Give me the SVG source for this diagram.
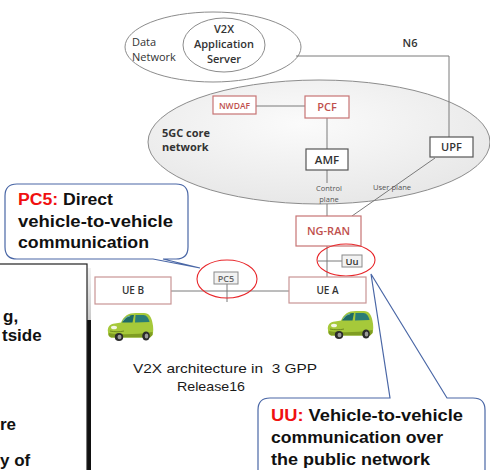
<svg xmlns="http://www.w3.org/2000/svg" width="490" height="470" viewBox="0 0 490 470">
  <style>
    .ln { stroke: #7a7a7a; stroke-width: 1; fill: none; }
    .lbl { font-family: "Open Sans", "Liberation Sans", sans-serif; }
    .redbox { fill: #ffffff; stroke: #c77474; stroke-width: 1.2; }
    .darkbox { fill: #ffffff; stroke: #555555; stroke-width: 1.2; }
    .uebox { fill: #ffffff; stroke: #c99595; stroke-width: 1.2; }
    .ifbox { fill: #f2f2f2; stroke: #8a8a8a; stroke-width: 1; }
    .redtxt { fill: #c0504d; font-weight: 600; }
    .darktxt { fill: #333333; font-weight: 600; }
    .hilite { fill: none; stroke: #e8262a; stroke-width: 1.1; }
    .callout { fill: #ffffff; stroke: #4a67a6; stroke-width: 1.2; }
    .ctext { font-family: "Liberation Sans", Arial, sans-serif; font-weight: bold; font-size: 16px; fill: #111111; }
    .key { fill: #f01010; }
    .side { font-family: "Liberation Sans", Arial, sans-serif; font-weight: bold; font-size: 17px; fill: #111111; }
    .cap { font-family: "Liberation Sans", Arial, sans-serif; font-size: 13px; fill: #1a1a1a; }
  </style>
  <defs>
    <radialGradient id="coreFill" cx="0.45" cy="0.35" r="0.7">
      <stop offset="0" stop-color="#fbfbfb"/>
      <stop offset="1" stop-color="#e6e6e6"/>
    </radialGradient>
    <linearGradient id="shadowFade" x1="0" y1="0" x2="0" y2="1">
      <stop offset="0" stop-color="#f2f2f2"/>
      <stop offset="1" stop-color="#c8c8c8"/>
    </linearGradient>
    <!-- small lime city car, front facing left -->
    <g id="car">
      <path d="M2,21 C1,16 4,13 9,12.5 L15,11.5 C18,5 22,2 30,2 L38,2 C43,2 45.5,6 46.5,12 C47.5,16 47.5,21 46.5,24 L44,26.5 L5,26.5 C2.5,25.5 2,23.5 2,21 Z" fill="#a6c93a"/>
      <path d="M3,22 C10,23.5 30,24 46.5,21 L46.5,24 L44,26.5 L5,26.5 C2.5,25.5 2,23.5 3,22 Z" fill="#7f9d22"/>
      <path d="M16,11.5 C19,6 22.5,4 28,4 L26.5,11.5 Z" fill="#1f6a66"/>
      <path d="M29.5,4 L37.5,4 C40.5,4 42.5,7 43.5,11 L29,11.5 Z" fill="#2a7d76"/>
      <path d="M17,10 C19,7 21,5.5 24,5" stroke="#6fb3a8" stroke-width="1" fill="none"/>
      <ellipse cx="8" cy="16.5" rx="3" ry="1.8" fill="#f4f7e6"/>
      <path d="M4,20 C8,21 14,21 18,20" stroke="#5f7a16" stroke-width="0.8" fill="none"/>
      <ellipse cx="13" cy="26" rx="4.2" ry="4" fill="#2b2b2b"/>
      <ellipse cx="13.5" cy="26" rx="2" ry="2.2" fill="#9a9a9a"/>
      <ellipse cx="40" cy="25" rx="3.8" ry="4.6" fill="#2b2b2b"/>
      <ellipse cx="40.5" cy="25" rx="1.8" ry="2.5" fill="#9a9a9a"/>
    </g>
  </defs>

  <rect x="0" y="0" width="490" height="470" fill="#ffffff"/>

  <!-- data network with the V2X application server -->
  <g id="data-network">
    <ellipse cx="213" cy="47" rx="88" ry="35" fill="#ffffff" stroke="#8c8c8c" stroke-width="1"/>
    <text class="lbl" x="132" y="46" font-size="11" fill="#333">Data</text>
    <text class="lbl" x="132" y="61" font-size="11" fill="#333">Network</text>
  </g>
  <g id="v2x-app-server">
    <ellipse cx="224" cy="45" rx="41" ry="27" fill="#ffffff" stroke="#8c8c8c" stroke-width="1"/>
    <text class="lbl" x="224" y="33" font-size="11" font-weight="600" fill="#333" text-anchor="middle">V2X</text>
    <text class="lbl" x="224" y="48" font-size="11" font-weight="600" fill="#333" text-anchor="middle">Application</text>
    <text class="lbl" x="224" y="63" font-size="11" font-weight="600" fill="#333" text-anchor="middle">Server</text>
  </g>

  <!-- 5G core network -->
  <g id="core-network">
    <ellipse cx="319" cy="142" rx="171" ry="62" fill="url(#coreFill)" stroke="#8c8c8c" stroke-width="1"/>
    <text class="lbl" x="162" y="137" font-size="11" font-weight="700" fill="#333">5GC core</text>
    <text class="lbl" x="162" y="151" font-size="11" font-weight="700" fill="#333">network</text>
  </g>

  <!-- connectors -->
  <g id="connectors">
    <polyline class="ln" points="296,56 449,56 449,137"/>
    <line class="ln" x1="256" y1="106" x2="305" y2="106"/>
    <line class="ln" x1="327" y1="118" x2="327" y2="149"/>
    <line class="ln" x1="327" y1="170" x2="327" y2="183"/>
    <line class="ln" x1="327" y1="204" x2="327" y2="216"/>
    <line class="ln" x1="435" y1="158" x2="352" y2="216"/>
    <line class="ln" x1="327" y1="246" x2="327" y2="277"/>
    <line class="ln" x1="318" y1="261" x2="342" y2="261"/>
    <line class="ln" x1="171" y1="291" x2="289" y2="291" stroke="#c99595"/>
    <line class="ln" x1="227" y1="284" x2="227" y2="302" stroke="#b08a8a"/>
  </g>

  <text class="lbl" x="410" y="47" font-size="11" font-weight="600" fill="#333" text-anchor="middle">N6</text>
  <text class="lbl" x="329" y="191" font-size="7.5" fill="#555" text-anchor="middle">Control</text>
  <text class="lbl" x="329" y="201.5" font-size="7.5" fill="#555" text-anchor="middle">plane</text>
  <text class="lbl" x="392" y="190" font-size="7.6" fill="#555" text-anchor="middle">User plane</text>

  <g id="nwdaf">
    <rect class="redbox" x="213" y="96" width="43" height="18"/>
    <text class="lbl redtxt" x="234.5" y="108.5" font-size="8.5" text-anchor="middle">NWDAF</text>
  </g>
  <g id="pcf">
    <rect class="redbox" x="305" y="96" width="44" height="22"/>
    <text class="lbl redtxt" x="327" y="111" font-size="11" text-anchor="middle">PCF</text>
  </g>
  <g id="amf">
    <rect class="darkbox" x="306" y="149" width="42" height="21"/>
    <text class="lbl darktxt" x="327" y="164" font-size="11.5" text-anchor="middle">AMF</text>
  </g>
  <g id="upf">
    <rect class="darkbox" x="430" y="137" width="43" height="20"/>
    <text class="lbl darktxt" x="451.5" y="151" font-size="11" text-anchor="middle">UPF</text>
  </g>
  <g id="ng-ran">
    <rect class="redbox" x="296" y="216" width="65" height="30"/>
    <text class="lbl redtxt" x="328.5" y="235" font-size="11" text-anchor="middle">NG-RAN</text>
  </g>
  <g id="uu">
    <rect class="ifbox" x="342" y="255" width="20" height="12"/>
    <text class="lbl darktxt" x="352" y="264.5" font-size="9.5" text-anchor="middle">Uu</text>
    <ellipse class="hilite" cx="346" cy="260" rx="29" ry="16"/>
  </g>
  <g id="ue-a">
    <rect class="uebox" x="289" y="277" width="77" height="26"/>
    <text class="lbl darktxt" x="327.5" y="294" font-size="10" text-anchor="middle">UE A</text>
  </g>
  <g id="ue-b">
    <rect class="uebox" x="95" y="277" width="76" height="27"/>
    <text class="lbl darktxt" x="133" y="294" font-size="10" text-anchor="middle">UE B</text>
  </g>
  <g id="pc5">
    <rect class="ifbox" x="214" y="272" width="24" height="12"/>
    <text class="lbl" x="226" y="282" font-size="9" font-weight="600" fill="#666" text-anchor="middle">PC5</text>
    <ellipse class="hilite" cx="227" cy="279" rx="30" ry="19"/>
  </g>

  <!-- vehicles -->
  <use href="#car" x="106" y="311"/>
  <use href="#car" x="326" y="309"/>

  <!-- caption -->
  <g id="caption">
    <text class="cap" x="133" y="373" textLength="184" lengthAdjust="spacingAndGlyphs" xml:space="preserve">V2X architecture in  3 GPP</text>
    <text class="cap" x="177" y="391" textLength="68" lengthAdjust="spacingAndGlyphs">Release16</text>
  </g>

  <!-- side text panel, partly outside the frame on the left -->
  <g id="side-panel">
    <rect x="87" y="268" width="4" height="52" fill="url(#shadowFade)"/>
    <rect x="87" y="320" width="4" height="150" fill="#111111"/>
    <rect x="-2" y="264" width="89" height="210" fill="#ffffff" stroke="#222222" stroke-width="1.2"/>
    <text class="side" x="3" y="322">g,</text>
    <text class="side" x="2" y="341">tside</text>
    <text class="side" x="0" y="430">re</text>
    <text class="side" x="0" y="466">y of</text>
  </g>

  <!-- PC5 callout -->
  <g id="pc5-callout">
    <path class="callout" d="M17,184 H176 Q188,184 188,196 V247 Q188,259 176,259 H163 L200,268 L153,259 H17 Q5,259 5,247 V196 Q5,184 17,184 Z"/>
    <text class="ctext" x="18" y="205" textLength="95" lengthAdjust="spacingAndGlyphs"><tspan class="key">PC5:</tspan> Direct</text>
    <text class="ctext" x="18" y="227" textLength="155" lengthAdjust="spacingAndGlyphs">vehicle-to-vehicle</text>
    <text class="ctext" x="18" y="248" textLength="131" lengthAdjust="spacingAndGlyphs">communication</text>
  </g>

  <!-- Uu callout -->
  <g id="uu-callout">
    <path class="callout" d="M270,398 H390 L371,274 L447,398 H473 Q485,398 485,410 V480 H258 V410 Q258,398 270,398 Z"/>
    <text class="ctext" x="271" y="421" textLength="192" lengthAdjust="spacingAndGlyphs"><tspan class="key">UU:</tspan> Vehicle-to-vehicle</text>
    <text class="ctext" x="271" y="443" textLength="172" lengthAdjust="spacingAndGlyphs">communication over</text>
    <text class="ctext" x="271" y="465" textLength="159" lengthAdjust="spacingAndGlyphs">the public network</text>
  </g>
</svg>
